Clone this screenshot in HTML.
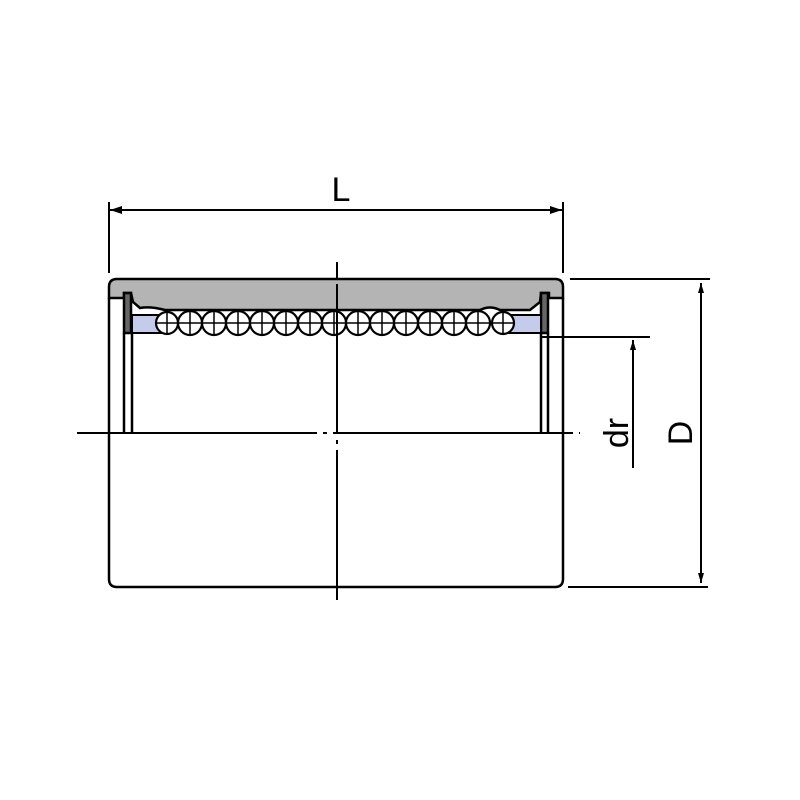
<!DOCTYPE html>
<html><head><meta charset="utf-8"><style>
html,body{margin:0;padding:0;background:#fff;}
svg{display:block;}
text{font-family:"Liberation Sans",sans-serif;}
</style></head><body>
<svg width="800" height="800" viewBox="0 0 800 800" xmlns="http://www.w3.org/2000/svg">
<defs>
<marker id="a" markerWidth="10" markerHeight="6" refX="10" refY="3" orient="auto" markerUnits="userSpaceOnUse">
<path d="M0,0 L10,3 L0,6 z" fill="#000"/></marker>
</defs>
<g stroke="#000" stroke-width="2.5" fill="none">
<path d="M109,298 L109,287 Q109,279 117,279 L555,279 Q563,279 563,287 L563,298 L549,298 L549,293 L541,293 L540,302 L530,310 L500,310 Q490,305 480,310 L165,310 Q150,306 140,308 L133,302 L131,293 L124,293 L124,298 Z" fill="#b4b4b4"/>
<path d="M109,298 L109,579 Q109,587 117,587 L555,587 Q563,587 563,579 L563,298"/>
<rect x="124" y="293" width="7" height="40" fill="#666"/>
<rect x="541" y="293" width="7" height="40" fill="#666"/>
<rect x="132" y="315" width="32" height="18" fill="#c4cbeb" stroke-width="2"/>
<rect x="508" y="315" width="33" height="18" fill="#c4cbeb" stroke-width="2"/>
<line x1="124" y1="333" x2="124" y2="433"/>
<line x1="132" y1="333" x2="132" y2="433"/>
<line x1="541" y1="333" x2="541" y2="433"/>
<line x1="548" y1="333" x2="548" y2="433"/>
<line x1="541" y1="337" x2="650" y2="337" stroke-width="2"/>
</g>
<g stroke="#000" stroke-width="2.2" fill="#fff">
<circle cx="167" cy="323" r="11"/><circle cx="190" cy="323" r="12"/><circle cx="214" cy="323" r="12"/><circle cx="238" cy="323" r="12"/><circle cx="262" cy="323" r="12"/><circle cx="286" cy="323" r="12"/><circle cx="310" cy="323" r="12"/><circle cx="334" cy="323" r="12"/><circle cx="358" cy="323" r="12"/><circle cx="382" cy="323" r="12"/><circle cx="406" cy="323" r="12"/><circle cx="430" cy="323" r="12"/><circle cx="454" cy="323" r="12"/><circle cx="478" cy="323" r="12"/><circle cx="503" cy="323" r="11"/>
</g>
<g stroke="#000" stroke-width="1.5">
<line x1="155" y1="323" x2="515" y2="323"/>
<line x1="167" y1="312" x2="167" y2="334"/><line x1="190" y1="311" x2="190" y2="335"/><line x1="214" y1="311" x2="214" y2="335"/><line x1="238" y1="311" x2="238" y2="335"/><line x1="262" y1="311" x2="262" y2="335"/><line x1="286" y1="311" x2="286" y2="335"/><line x1="310" y1="311" x2="310" y2="335"/><line x1="334" y1="311" x2="334" y2="335"/><line x1="358" y1="311" x2="358" y2="335"/><line x1="382" y1="311" x2="382" y2="335"/><line x1="406" y1="311" x2="406" y2="335"/><line x1="430" y1="311" x2="430" y2="335"/><line x1="454" y1="311" x2="454" y2="335"/><line x1="478" y1="311" x2="478" y2="335"/><line x1="503" y1="312" x2="503" y2="334"/>
</g>
<g stroke="#000" stroke-width="2" fill="none">
<line x1="77" y1="433" x2="580" y2="433" stroke-dasharray="240,6,4,6"/>
<line x1="337" y1="262" x2="337" y2="602" stroke-dasharray="16,6,150,6,4,6,150"/>
</g>
<g stroke="#000" stroke-width="2" fill="none">
<line x1="109" y1="202" x2="109" y2="273"/>
<line x1="563" y1="202" x2="563" y2="273"/>
<line x1="110" y1="210" x2="562" y2="210"/>
<line x1="570" y1="279" x2="710" y2="279"/>
<line x1="568" y1="587" x2="708" y2="587"/>
<line x1="701" y1="583" x2="701" y2="283" marker-end="url(#a)"/>
<line x1="701" y1="290" x2="701" y2="583" marker-end="url(#a)"/>
<line x1="633" y1="468" x2="633" y2="340" marker-end="url(#a)"/>
</g>
<path d="M110,210 L122,206 L122,214 Z M562,210 L550,206 L550,214 Z" fill="#000"/>
<text x="341" y="201" font-size="34" text-anchor="middle">L</text>
<text transform="translate(628,433) rotate(-90)" font-size="34" text-anchor="middle">dr</text>
<text transform="translate(692,433) rotate(-90)" font-size="34" text-anchor="middle">D</text>
</svg>
</body></html>
